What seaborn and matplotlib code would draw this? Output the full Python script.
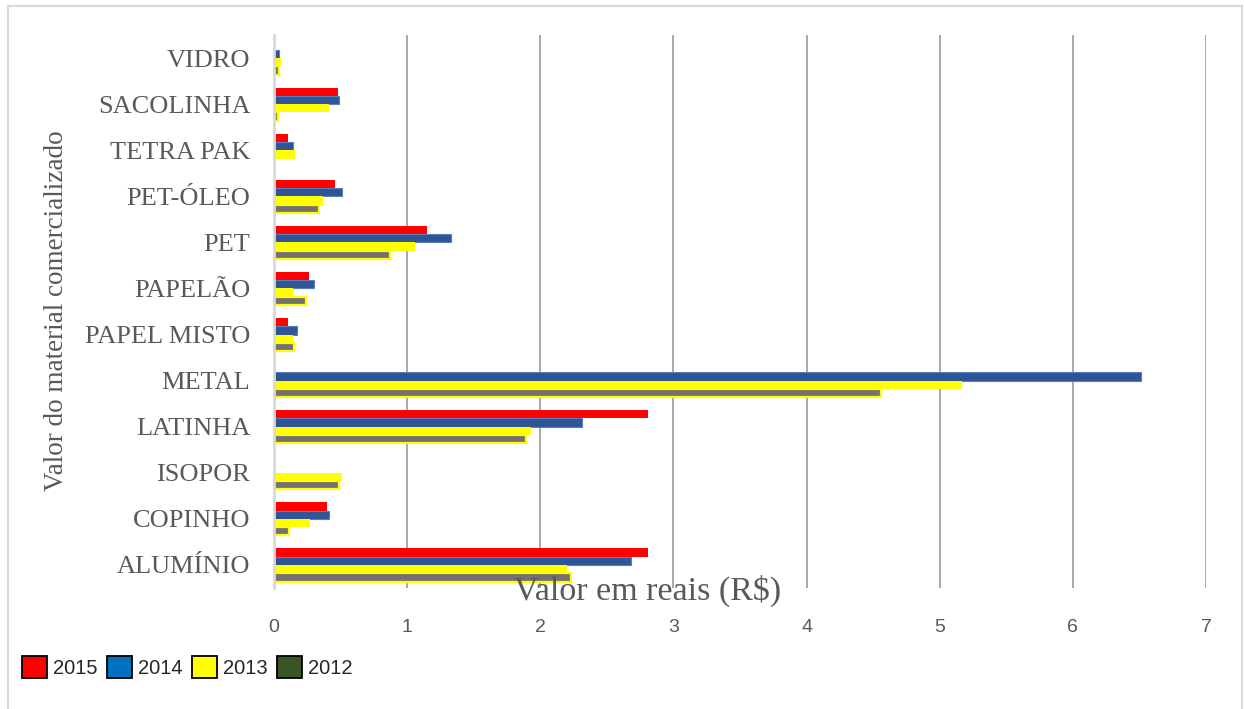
import numpy as np
import pandas as pd
import matplotlib
matplotlib.use("Agg")
import matplotlib.pyplot as plt
import seaborn as sns
from matplotlib.patches import Patch, Rectangle
from matplotlib.colors import to_rgba

# data (R$ values)
categories = ["VIDRO", "SACOLINHA", "TETRA PAK", "PET-ÓLEO", "PET", "PAPELÃO",
              "PAPEL MISTO", "METAL", "LATINHA", "ISOPOR", "COPINHO", "ALUMÍNIO"]
years = ["2015", "2014", "2013", "2012"]
v2015 = [np.nan, 0.48, 0.105, 0.46, 1.15, 0.26, 0.105, np.nan, 2.81, np.nan, 0.40, 2.81]
v2014 = [0.04, 0.49, 0.14, 0.51, 1.33, 0.30, 0.175, 6.51, 2.31, np.nan, 0.41, 2.68]
v2013 = [0.055, 0.41, 0.16, 0.37, 1.06, 0.145, 0.145, 5.17, 1.93, 0.51, 0.27, 2.20]
v2012 = [0.04, 0.03, np.nan, 0.34, 0.87, 0.24, 0.15, 4.56, 1.89, 0.49, 0.11, 2.23]

# colours
RED = "#FF0000"
BLUE = "#2F5597"
YELLOW = "#FFFF00"
GRAY = "#767171"
TXT = "#595959"
bar_colors = {"2015": RED, "2014": BLUE, "2013": YELLOW, "2012": GRAY}
legend_colors = {"2015": "#FF0000", "2014": "#0070C0", "2013": "#FFFF00", "2012": "#375623"}

sns.set_style("white")
plt.rcParams["font.family"] = ["Liberation Serif", "DejaVu Serif"]

# long format for seaborn
df = pd.DataFrame({"material": categories, "2015": v2015, "2014": v2014,
                   "2013": v2013, "2012": v2012})
long = df.melt(id_vars="material", var_name="ano", value_name="valor").dropna()

fig = plt.figure(figsize=(12.44, 7.09), dpi=100)
ax = fig.add_axes([274 / 1244, 1 - 588 / 709, 932 / 1244, 553 / 709])

sns.barplot(data=long, y="material", x="valor", hue="ano", order=categories,
            hue_order=years, palette=bar_colors, orient="h", width=0.72,
            errorbar=None, ax=ax, legend=False, saturation=1)

# bar edges: gray 2012 bars carry a yellow outline
for p in ax.patches:
    fc = p.get_facecolor()
    if np.allclose(fc, to_rgba(GRAY), atol=0.01):
        p.set_edgecolor(YELLOW)
        p.set_linewidth(1.6)
    elif np.allclose(fc, to_rgba(BLUE), atol=0.01):
        p.set_edgecolor("#5A7DBE")
        p.set_linewidth(0.8)
    else:
        p.set_linewidth(0)

ax.set_xlim(0, 7)
ax.set_ylim(11.5, -0.5)
ax.set_xticks(range(0, 8))
ax.xaxis.grid(True, color="#9A9A9A", linewidth=1.2)
ax.yaxis.grid(False)
ax.set_axisbelow(True)
for s in ["top", "right", "bottom"]:
    ax.spines[s].set_visible(False)
ax.spines["left"].set_color("#D9D9D9")
ax.spines["left"].set_linewidth(2)
ax.tick_params(axis="both", length=0)
ax.tick_params(axis="y", pad=17, labelsize=19, labelcolor=TXT)
ax.tick_params(axis="x", pad=22, labelsize=14, labelcolor=TXT)
for lab in ax.get_xticklabels():
    lab.set_family(["Liberation Sans", "DejaVu Sans"])
ax.set_xlabel("")
ax.set_ylabel("")

fig.text(648 / 1244, 1 - 591 / 709, "Valor em reais (R$)", ha="center", va="center",
         fontsize=24.5, color=TXT)
fig.text(57 / 1244, 1 - 311 / 709, "Valor do material comercializado", ha="center",
         va="center", rotation=90, fontsize=19.5, color=TXT)

# legend with its own colours (as in the source)
handles = [Patch(facecolor=legend_colors[y], edgecolor="black", linewidth=1.3) for y in years]
fig.legend(handles, years, loc="center left", bbox_to_anchor=(22 / 1244, 1 - 667 / 709),
           ncol=4, frameon=False, handlelength=1.25, handleheight=1.25, handletextpad=0.3,
           columnspacing=0.45, borderaxespad=0, borderpad=0,
           prop={"family": ["Liberation Sans", "DejaVu Sans"], "size": 14.5})

# light frame around the chart area
fig.patches.append(Rectangle((8 / 1244, -0.05), 1234 / 1244, 1.05 - 6 / 709,
                             transform=fig.transFigure, fill=False,
                             edgecolor="#D9D9D9", linewidth=1.5))

fig.savefig("out.png", dpi=100)
